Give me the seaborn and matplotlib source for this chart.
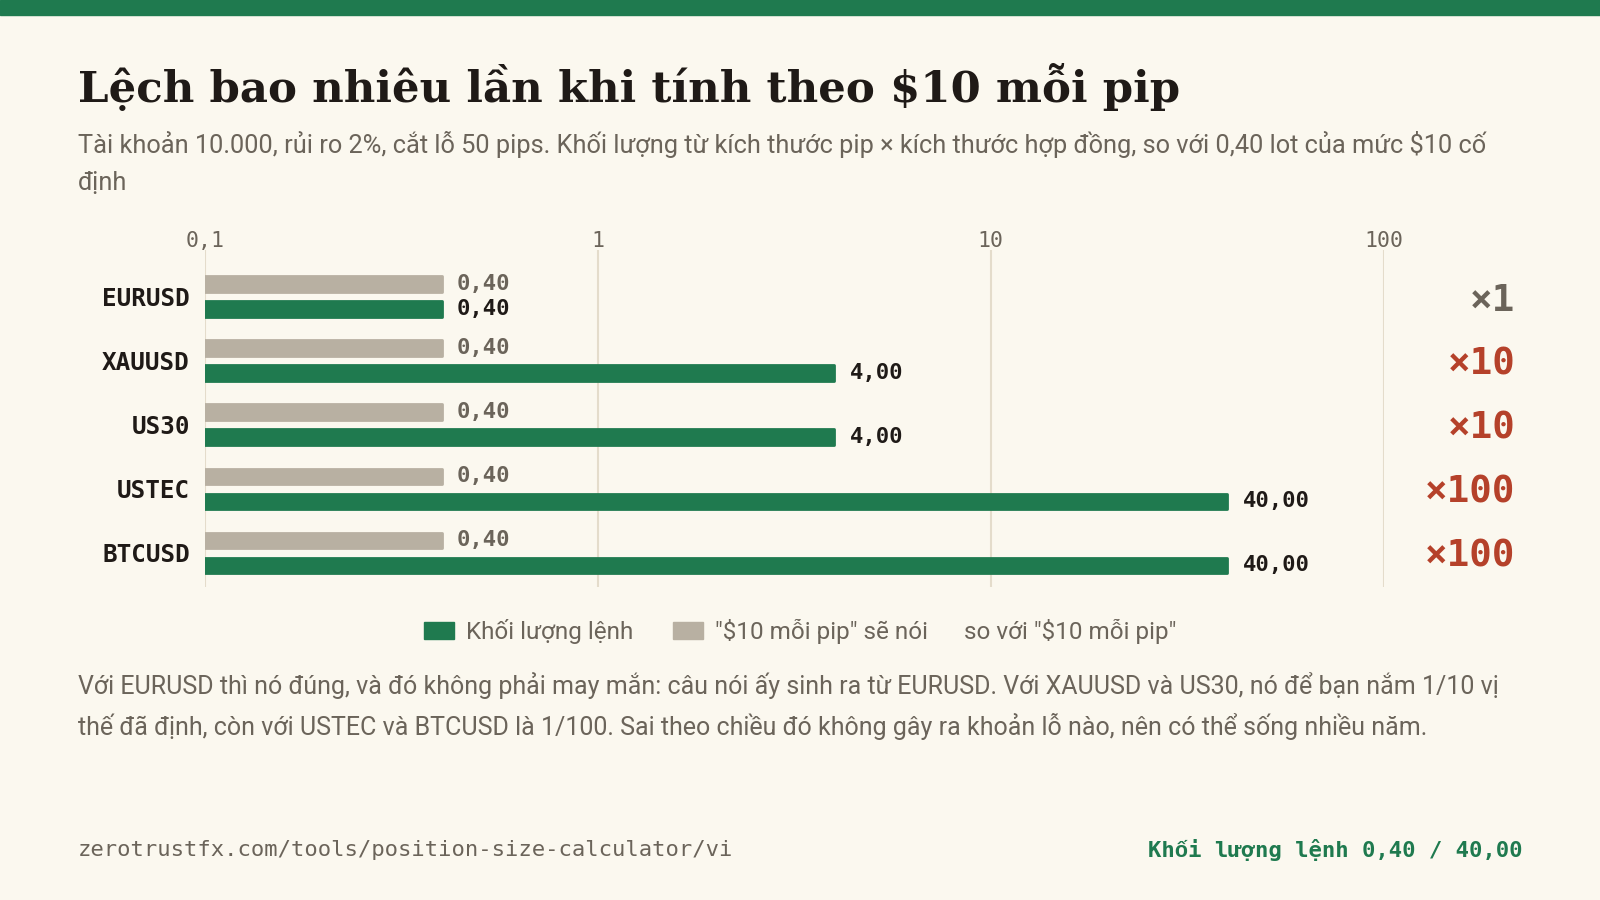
import matplotlib
matplotlib.use("Agg")
import matplotlib.pyplot as plt
from matplotlib.patches import Patch, Rectangle
from matplotlib.ticker import NullLocator
from matplotlib.transforms import blended_transform_factory
import pandas as pd
import seaborn as sns

# data
categories = ["EURUSD", "XAUUSD", "US30", "USTEC", "BTCUSD"]
lots_actual = [0.40, 4.00, 4.00, 40.00, 40.00]
lots_fixed = [0.40, 0.40, 0.40, 0.40, 0.40]
x_ticks = [0.1, 1, 10, 100]
x_tick_labels = ["0,1", "1", "10", "100"]

label_actual = "Khối lượng lệnh"
label_fixed = '"$10 mỗi pip" sẽ nói'
label_ratio = 'so với "$10 mỗi pip"'

title = "Lệch bao nhiêu lần khi tính theo $10 mỗi pip"
subtitle = ("Tài khoản 10.000, rủi ro 2%, cắt lỗ 50 pips. Khối lượng từ kích thước pip × kích thước hợp đồng, "
            "so với 0,40 lot của mức $10 cố\nđịnh")
note = ("Với EURUSD thì nó đúng, và đó không phải may mắn: câu nói ấy sinh ra từ EURUSD. Với XAUUSD và US30, "
        "nó để bạn nắm 1/10 vị\nthế đã định, còn với USTEC và BTCUSD là 1/100. Sai theo chiều đó không gây ra "
        "khoản lỗ nào, nên có thể sống nhiều năm.")
source = "zerotrustfx.com/tools/position-size-calculator/vi"
footer_right = "Khối lượng lệnh 0,40 / 40,00"

BG = "#fbf8ef"
GREEN = "#1f7a4f"
GRAY_BAR = "#b8b0a2"
TEXT = "#1f1a17"
MUTED = "#6b645a"
RED = "#b5412a"
GRID = "#e4dccb"

SANS = ["Roboto", "DejaVu Sans"]
MONO = ["DejaVu Sans Mono", "Liberation Mono", "DejaVu Sans"]
SERIF = ["DejaVu Serif", "Liberation Serif"]


def fmt(v):
    return f"{v:.2f}".replace(".", ",")


def main():
    sns.set_theme(style="white")
    plt.rcParams["font.family"] = SANS
    plt.rcParams["text.parse_math"] = False
    plt.rcParams["figure.facecolor"] = BG
    plt.rcParams["axes.facecolor"] = BG

    fig = plt.figure(figsize=(16, 9), dpi=100)
    ax = fig.add_axes([0.1282, 0.348, 0.7366, 0.3744])

    df = pd.DataFrame({
        "symbol": categories * 2,
        "lot": lots_fixed + lots_actual,
        "series": [label_fixed] * len(categories) + [label_actual] * len(categories),
    })
    sns.barplot(data=df, y="symbol", x="lot", hue="series",
                hue_order=[label_fixed, label_actual], palette=[GRAY_BAR, GREEN],
                orient="h", width=0.78, gap=0.38, errorbar=None, legend=False,
                saturation=1, ax=ax)

    for cont, col in zip(ax.containers, [GRAY_BAR, GREEN]):
        for bar in cont:
            bar.set_edgecolor(col)
            bar.set_linewidth(2)
            bar.set_joinstyle("round")

    ax.set_xscale("log")
    ax.set_xlim(0.1, 100)
    ax.set_ylim(4.53, -0.73)
    ax.xaxis.set_minor_locator(NullLocator())
    ax.xaxis.tick_top()
    ax.set_xticks(x_ticks, x_tick_labels)
    ax.tick_params(axis="x", length=0, pad=-1, labelsize=15.5, labelcolor=MUTED)
    for t in ax.get_xticklabels():
        t.set_fontfamily(MONO)
    ax.tick_params(axis="y", length=0, pad=11, labelsize=17.5, labelcolor=TEXT)
    for t in ax.get_yticklabels():
        t.set_fontfamily(MONO)
        t.set_fontweight("bold")
    ax.set_xlabel("")
    ax.set_ylabel("")
    for s in ax.spines.values():
        s.set_visible(False)
    ax.xaxis.grid(True, color=GRID, linewidth=1.5)
    ax.set_axisbelow(True)

    ax.bar_label(ax.containers[0], labels=[fmt(v) for v in lots_fixed], padding=11,
                 fontfamily=MONO, fontweight="bold", fontsize=16, color=MUTED)
    ax.bar_label(ax.containers[1], labels=[fmt(v) for v in lots_actual], padding=11,
                 fontfamily=MONO, fontweight="bold", fontsize=16, color=TEXT)

    # multipliers on the right
    tr = blended_transform_factory(fig.transFigure, ax.transData)
    for i, (a, f) in enumerate(zip(lots_actual, lots_fixed)):
        ratio = a / f
        ax.text(0.947, i, f"×{ratio:.0f}", transform=tr, ha="right", va="center_baseline",
                fontfamily=MONO, fontweight="bold", fontsize=27,
                color=MUTED if round(ratio) == 1 else RED, clip_on=False)

    # top band
    fig.patches.append(Rectangle((0, 1 - 15 / 882), 1, 15 / 882, transform=fig.transFigure,
                                 color=GREEN, zorder=0))

    fig.text(0.0485, 0.887, title, fontfamily=SERIF, fontweight="bold", fontsize=31.3,
             color=TEXT, va="baseline")
    fig.text(0.0485, 0.819, subtitle, fontsize=18.3, color=MUTED, va="center", linespacing=1.7)

    # legend: two swatches plus a text-only entry, centred as one row
    leg_y = 0.298
    handles = [Patch(facecolor=GREEN, edgecolor=GREEN),
               Patch(facecolor=GRAY_BAR, edgecolor=GRAY_BAR)]
    leg = fig.legend(handles, [label_actual, label_fixed], loc="center left",
                     bbox_to_anchor=(0.25, leg_y), ncol=2, frameon=False, fontsize=17.5,
                     handlelength=1.25, handleheight=0.7, handletextpad=0.5,
                     columnspacing=1.6, borderpad=0, borderaxespad=0)
    for t in leg.get_texts():
        t.set_color(MUTED)
    extra = fig.text(0.5, leg_y, label_ratio, fontsize=17.5, color=MUTED, va="center", ha="left")
    fig.canvas.draw()
    r = fig.canvas.get_renderer()
    fw = fig.bbox.width
    w_leg = leg.get_window_extent(r).width / fw
    w_extra = extra.get_window_extent(r).width / fw
    gap = 35 / 1568
    x0 = 0.5 - (w_leg + gap + w_extra) / 2
    leg.set_bbox_to_anchor((x0, leg_y), transform=fig.transFigure)
    extra.set_x(x0 + w_leg + gap)

    fig.text(0.0485, 0.2155, note, fontsize=18, color=MUTED, va="center", linespacing=1.6)

    fig.text(0.0485, 0.0556, source, fontfamily=MONO, fontsize=16, color=MUTED, va="center")
    fig.text(0.9515, 0.0556, footer_right, fontfamily=MONO, fontweight="bold", fontsize=16,
             color=GREEN, va="center", ha="right")

    fig.savefig("out.png", dpi=100, facecolor=BG)


if __name__ == "__main__":
    main()
